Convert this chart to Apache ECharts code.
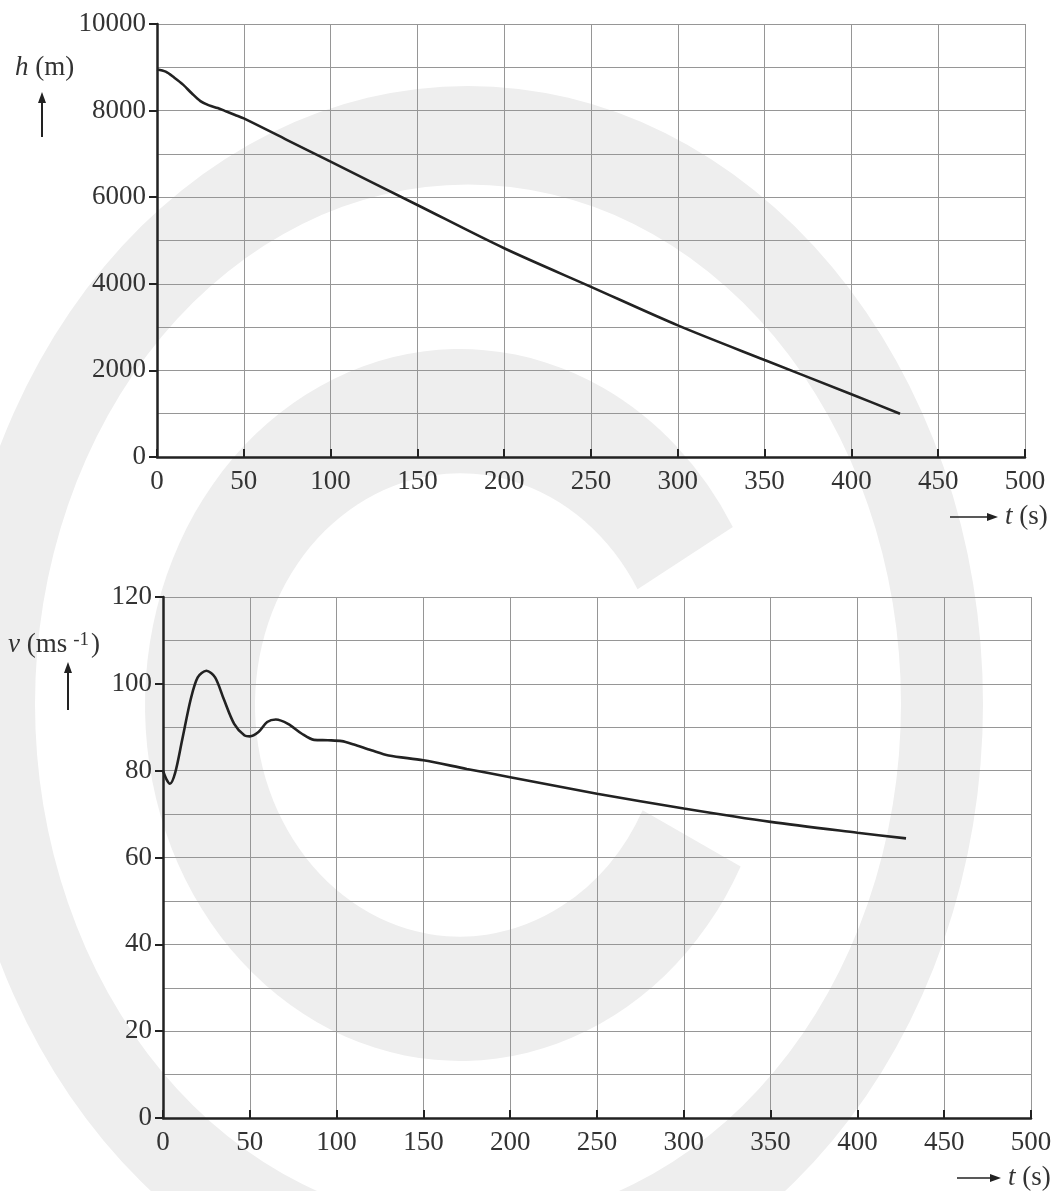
<!DOCTYPE html>
<html>
<head>
<meta charset="utf-8">
<script src="https://cdn.jsdelivr.net/npm/echarts@6/dist/echarts.min.js"></script>
<style>
  html, body { margin: 0; padding: 0; background: #fff; }
  #chart { width: 1063px; height: 1191px; }
</style>
</head>
<body>
<div id="chart"></div>
<script>
// height h (m) against time t (s)
var hTime = [0, 5, 10, 15, 20, 25, 30, 35, 40, 45, 50, 75, 100, 150, 200, 250, 300, 350, 400, 428]
var hValue = [8950, 8900, 8760, 8600, 8400, 8220, 8120, 8060, 7980, 7900, 7820, 7320, 6820, 5820, 4820, 3930, 3040, 2240, 1450, 1000]

// speed v (m/s) against time t (s)
var vTime = [0, 2, 4, 7, 11, 16, 20, 25, 30, 35, 41, 47, 50, 55, 60, 65, 72, 80, 87, 95, 103, 110, 120, 130, 150, 175, 200, 250, 300, 350, 400, 428]
var vValue = [80, 78, 77, 79.5, 87, 96.5, 101.5, 103, 101.5, 96.5, 90.8, 88.1, 87.9, 88.9, 91.2, 91.8, 90.8, 88.5, 87.1, 87, 86.8, 86, 84.7, 83.5, 82.4, 80.4, 78.5, 74.7, 71.3, 68.2, 65.7, 64.4]

var tMax = 500
var hMax = 10000
var vMax = 120

function pairs (xs, ys) {
  return xs.map(function (x, i) { return [x, ys[i]] })
}

var serif = '"Liberation Serif", "DejaVu Serif", serif'
var ink = '#222'
var gridColor = '#969696'

function xAxisFor (idx) {
  return {
    type: 'value',
    gridIndex: idx,
    min: 0,
    max: tMax,
    interval: 50,
    axisLine: { onZero: false, lineStyle: { color: ink, width: 2.5 } },
    axisTick: { inside: true, length: 8, lineStyle: { color: ink, width: 2 } },
    axisLabel: { fontFamily: serif, fontSize: 27, color: '#333', margin: 11 },
    splitLine: { show: true, lineStyle: { color: gridColor, width: 1 } }
  }
}

function yAxisFor (idx, max, step) {
  return {
    type: 'value',
    gridIndex: idx,
    min: 0,
    max: max,
    interval: step,
    axisLine: { show: true, onZero: false, lineStyle: { color: ink, width: 2.5 } },
    axisTick: { show: true, length: 8, lineStyle: { color: ink, width: 2 } },
    axisLabel: {
      fontFamily: serif,
      fontSize: 27,
      color: '#333',
      margin: 11,
      formatter: function (val) { return String(val) }
    },
    splitLine: { show: true, lineStyle: { color: gridColor, width: 1 } },
    minorTick: { show: false, splitNumber: 2 },
    minorSplitLine: { show: true, lineStyle: { color: gridColor, width: 1 } }
  }
}

function upArrow (x, yTop, yBottom) {
  return {
    type: 'group',
    children: [
      { type: 'line', shape: { x1: x, y1: yBottom, x2: x, y2: yTop + 8 }, style: { stroke: ink, lineWidth: 2 } },
      { type: 'polygon', shape: { points: [[x, yTop], [x - 4, yTop + 11], [x + 4, yTop + 11]] }, style: { fill: ink } }
    ]
  }
}

function rightArrow (xLeft, xRight, y) {
  return {
    type: 'group',
    children: [
      { type: 'line', shape: { x1: xLeft, y1: y, x2: xRight - 8, y2: y }, style: { stroke: ink, lineWidth: 1.6 } },
      { type: 'polygon', shape: { points: [[xRight, y], [xRight - 11, y - 4], [xRight - 11, y + 4]] }, style: { fill: ink } }
    ]
  }
}

function label (x, y, text) {
  return {
    type: 'text',
    x: x,
    y: y,
    style: {
      text: text,
      fontFamily: serif,
      fontSize: 26,
      fill: '#333',
      verticalAlign: 'middle',
      rich: {
        i: { fontFamily: serif, fontSize: 27, fontStyle: 'italic', fill: '#333' },
        n: { fontFamily: serif, fontSize: 27, fill: '#333' },
        sup: { fontFamily: serif, fontSize: 19, fill: '#333', verticalAlign: 'top', padding: [0, 2, 10, 6] }
      }
    }
  }
}

var watermark = '#eeeeee'

var option = {
  backgroundColor: '#fff',
  animation: false,
  graphic: [
    // big grey background logo
    {
      type: 'sector', z: -10, silent: true,
      x: 468, y: 704, scaleY: 1.2,
      shape: { cx: 0, cy: 0, r0: 433, r: 515, startAngle: 0, endAngle: Math.PI * 2, clockwise: true },
      style: { fill: watermark }
    },
    {
      type: 'sector', z: -10, silent: true,
      x: 460, y: 705, scaleY: 1.13,
      shape: { cx: 0, cy: 0, r0: 205, r: 315, startAngle: 27 * Math.PI / 180, endAngle: 330 * Math.PI / 180, clockwise: true },
      style: { fill: watermark }
    },
    label(15, 68, '{i|h}{n| (m)}'),
    upArrow(42, 92, 137),
    rightArrow(950, 998, 517),
    label(1005, 517, '{i|t}{n| (s)}'),
    label(8, 645, '{i|v}{n| (ms}{sup|-1}{n|)}'),
    upArrow(68, 662, 710),
    rightArrow(957, 1001, 1178),
    label(1008, 1178, '{i|t}{n| (s)}')
  ],
  grid: [
    { left: 157, right: 38, top: 24, bottom: 1191 - 457 },
    { left: 163, right: 32, top: 597, bottom: 1191 - 1118 }
  ],
  xAxis: [xAxisFor(0), xAxisFor(1)],
  yAxis: [yAxisFor(0, hMax, 2000), yAxisFor(1, vMax, 20)],
  series: [
    {
      name: 'h',
      type: 'line',
      xAxisIndex: 0,
      yAxisIndex: 0,
      data: pairs(hTime, hValue),
      smooth: 0.3,
      showSymbol: false,
      lineStyle: { color: ink, width: 2.6 },
      z: 5
    },
    {
      name: 'v',
      type: 'line',
      xAxisIndex: 1,
      yAxisIndex: 1,
      data: pairs(vTime, vValue),
      smooth: 0.3,
      showSymbol: false,
      lineStyle: { color: ink, width: 2.6 },
      z: 5
    }
  ]
}

var chart = echarts.init(document.getElementById('chart'))
chart.setOption(option)
</script>
</body>
</html>
